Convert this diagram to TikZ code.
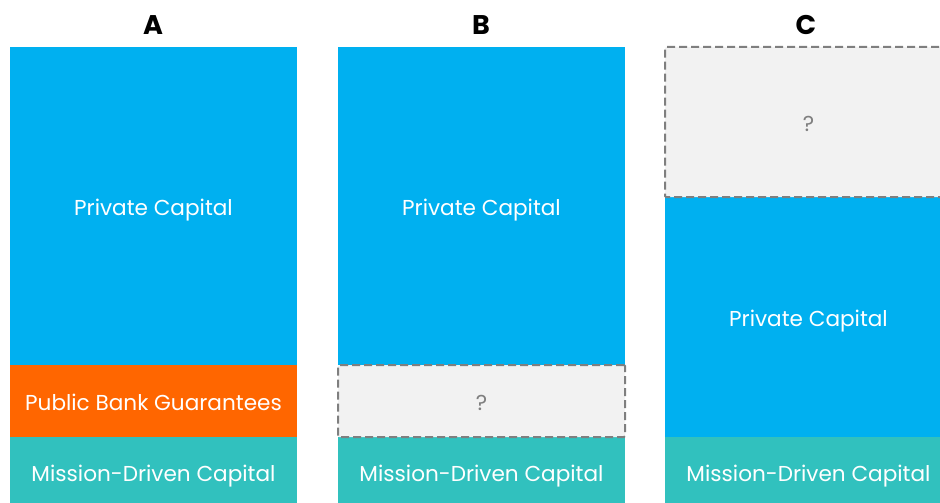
\documentclass[tikz,border=0pt]{standalone}
\usepackage{fontspec}
\setmainfont{Poppins}
\definecolor{privblue}{HTML}{00B0F0}
\definecolor{guarorange}{HTML}{FF6600}
\definecolor{missionteal}{HTML}{31C1BE}
\definecolor{unknownfill}{HTML}{F2F2F2}
\definecolor{unknownline}{HTML}{7F7F7F}
\tikzset{
  block/.style={anchor=north west, inner sep=0pt, outer sep=0pt, minimum width=287pt,
    text=white, font=\fontsize{21.6}{24}\selectfont, text height=19pt, text depth=0pt},
  private/.style={block, fill=privblue},
  guarantee/.style={block, fill=guarorange},
  mission/.style={block, fill=missionteal},
  unknown/.style={block, fill=unknownfill, draw=unknownline, line width=2pt,
    dash pattern=on 8pt off 4pt, rounded corners=1pt, text=unknownline},
  header/.style={font=\fontsize{27}{30}\selectfont\bfseries, text=black, inner sep=0pt,
    text height=19pt, text depth=0pt}
}
\begin{document}
\begin{tikzpicture}[x=1pt, y=-1pt]
\useasboundingbox (0,0) rectangle (940,503);
\clip (0,0) rectangle (940,503);
% column headers
\node[header] (hA) at (153,25) {A};
\node[header] (hB) at (481,25) {B};
\node[header] (hC) at (806,25) {C};
% scenario A
\node[private, minimum height=318pt] (pA) at (10,47) {Private Capital};
\node[guarantee, minimum height=72pt] (gA) at (10,365) {Public Bank Guarantees};
\node[mission, minimum height=70pt] (mA) at (10,437) {Mission-Driven Capital};
% scenario B
\node[private, minimum height=318pt] (pB) at (338,47) {Private Capital};
\node[mission, minimum height=70pt] (mB) at (338,437) {Mission-Driven Capital};
\node[unknown, minimum height=72pt] (uB) at (338,365) {?};
% scenario C
\node[private, minimum height=240pt] (pC) at (665,197) {Private Capital};
\node[mission, minimum height=70pt] (mC) at (665,437) {Mission-Driven Capital};
\node[unknown, minimum height=150pt] (uC) at (665,47) {?};
\end{tikzpicture}
\end{document}
